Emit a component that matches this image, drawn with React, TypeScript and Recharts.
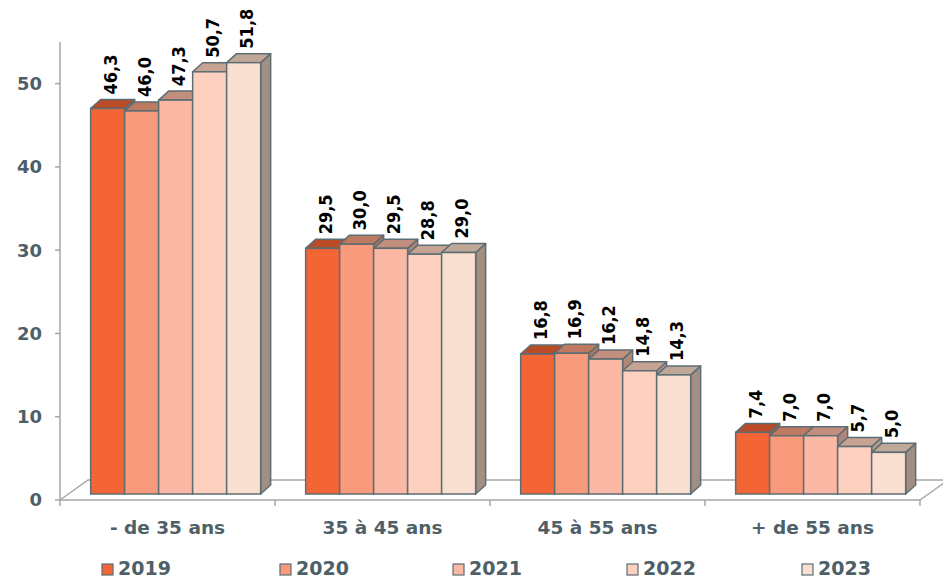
import { Bar, BarChart, XAxis, YAxis } from "recharts";

const categories = ["- de 35 ans", "35 à 45 ans", "45 à 55 ans", "+ de 55 ans"];
const years = ["2019", "2020", "2021", "2022", "2023"];
const v2019 = [46.3, 29.5, 16.8, 7.4];
const v2020 = [46.0, 30.0, 16.9, 7.0];
const v2021 = [47.3, 29.5, 16.2, 7.0];
const v2022 = [50.7, 28.8, 14.8, 5.7];
const v2023 = [51.8, 29.0, 14.3, 5.0];
const yTicks = [0, 10, 20, 30, 40, 50];

const fills = ["#F46536", "#F89A7B", "#FBB8A4", "#FDD0C0", "#F9DFCF"];
const tops = ["#B94B27", "#BE7961", "#C28E7E", "#C6A393", "#C0A898"];
const sides = ["#A8543A", "#AE7462", "#B08678", "#B2978A", "#A28E82"];

const series = [v2019, v2020, v2021, v2022, v2023];
const rows = categories.map((c, i) => {
  const row: Record<string, string | number> = { cat: c };
  years.forEach((y, j) => {
    row[y] = series[j][i];
  });
  return row;
});

const W = 943;
const H = 578;
const LEFT = 60;
const RIGHT = 920;
const BASE = 500;
const TOP = 42;
const XAXIS_H = 30;
const EDGE = "#5C6E74";
const TEXT = "#4E5F68";
const FONT = "'DejaVu Sans', Verdana, sans-serif";
const LABEL_FONT = "'DejaVu Sans Condensed', 'DejaVu Sans', sans-serif";

// 3D offsets
const DX = 10;
const DY = 9;
const SHIFT_X = 7;
const SHIFT_Y = 6;

function makeShape(idx: number, key: string) {
  return (props: any) => {
    const { x, y, width, height, payload } = props;
    const fx = x + SHIFT_X;
    const fy = y - SHIFT_Y;
    const w = width;
    const h = height;
    const val = Number(payload[key]);
    const lx = fx + w / 2 + 9;
    const ly = fy - DY - 5;
    return (
      <g>
        <polygon
          points={`${fx + w},${fy} ${fx + w + DX},${fy - DY} ${fx + w + DX},${fy + h - DY} ${fx + w},${fy + h}`}
          fill={sides[idx]}
          stroke={EDGE}
          strokeWidth={1.5}
          strokeLinejoin="round"
        />
        <polygon
          points={`${fx},${fy} ${fx + DX},${fy - DY} ${fx + w + DX},${fy - DY} ${fx + w},${fy}`}
          fill={tops[idx]}
          stroke={EDGE}
          strokeWidth={1.5}
          strokeLinejoin="round"
        />
        <rect x={fx} y={fy} width={w} height={h} fill={fills[idx]} stroke={EDGE} strokeWidth={1.5} />
        <text
          x={lx}
          y={ly}
          transform={`rotate(-90 ${lx} ${ly})`}
          textAnchor="start"
          fontFamily={LABEL_FONT}
          fontWeight="bold"
          fontSize={18}
          fill="#000"
        >
          {val.toFixed(1).replace(".", ",")}
        </text>
      </g>
    );
  };
}

function CatTick(props: any) {
  const { x, payload } = props;
  return (
    <text
      x={x}
      y={BASE + 27}
      textAnchor="middle"
      dominantBaseline="central"
      fontFamily={FONT}
      fontWeight="bold"
      fontSize={18.5}
      fill={TEXT}
    >
      {payload.value}
    </text>
  );
}

function Floor() {
  const step = (RIGHT - LEFT) / categories.length;
  const bounds = [0, 1, 2, 3, 4].map((i) => LEFT + i * step);
  return (
    <svg width={W} height={H} style={{ position: "absolute", left: 0, top: 0 }}>
      <polyline
        points={`${LEFT},${BASE} ${LEFT + 28},${BASE - 20} ${W + 5},${BASE - 20}`}
        fill="none"
        stroke="#A6A6A6"
        strokeWidth={1.5}
      />
      <line x1={RIGHT} y1={BASE} x2={RIGHT + 28} y2={BASE - 20} stroke="#A6A6A6" strokeWidth={1.5} />
      {bounds.map((bx) => (
        <line key={bx} x1={bx} y1={BASE} x2={bx} y2={BASE + 6} stroke="#A6A6A6" strokeWidth={1.5} />
      ))}
    </svg>
  );
}

function Legend() {
  const xs = [102, 280, 453, 627, 802];
  return (
    <svg width={W} height={H} style={{ position: "absolute", left: 0, top: 0, pointerEvents: "none" }}>
      {years.map((yr, i) => (
        <g key={yr}>
          <rect x={xs[i]} y={564} width={11} height={11} fill={fills[i]} stroke={EDGE} strokeWidth={1.2} />
          <text
            x={xs[i] + 16}
            y={575}
            fontFamily={FONT}
            fontWeight="bold"
            fontSize={19}
            fill={TEXT}
          >
            {yr}
          </text>
        </g>
      ))}
    </svg>
  );
}

export default function App() {
  return (
    <div style={{ position: "absolute", left: 0, top: 0, width: W, height: H, background: "#fff" }}>
      <Floor />
      <div style={{ position: "absolute", left: 0, top: 0 }}>
        <BarChart
          width={W}
          height={H}
          data={rows}
          margin={{ top: TOP, right: W - RIGHT, left: 0, bottom: H - BASE - XAXIS_H }}
          barCategoryGap="11%"
          barGap={0}
        >
          <XAxis
            dataKey="cat"
            height={XAXIS_H}
            axisLine={{ stroke: "#A6A6A6", strokeWidth: 1.5 }}
            tickLine={false}
            tickSize={0}
            tick={<CatTick />}
            interval={0}
          />
          <YAxis
            width={LEFT}
            domain={[0, 55]}
            ticks={yTicks}
            axisLine={{ stroke: "#A6A6A6", strokeWidth: 1.5 }}
            tickLine={{ stroke: "#A6A6A6", strokeWidth: 1.5 }}
            tickSize={5}
            tickMargin={13}
            tick={{ fontFamily: FONT, fontWeight: "bold", fontSize: 18, fill: TEXT }}
          />
          {years.map((yr, i) => (
            <Bar key={yr} dataKey={yr} shape={makeShape(i, yr)} isAnimationActive={false} />
          ))}
        </BarChart>
      </div>
      <Legend />
    </div>
  );
}
